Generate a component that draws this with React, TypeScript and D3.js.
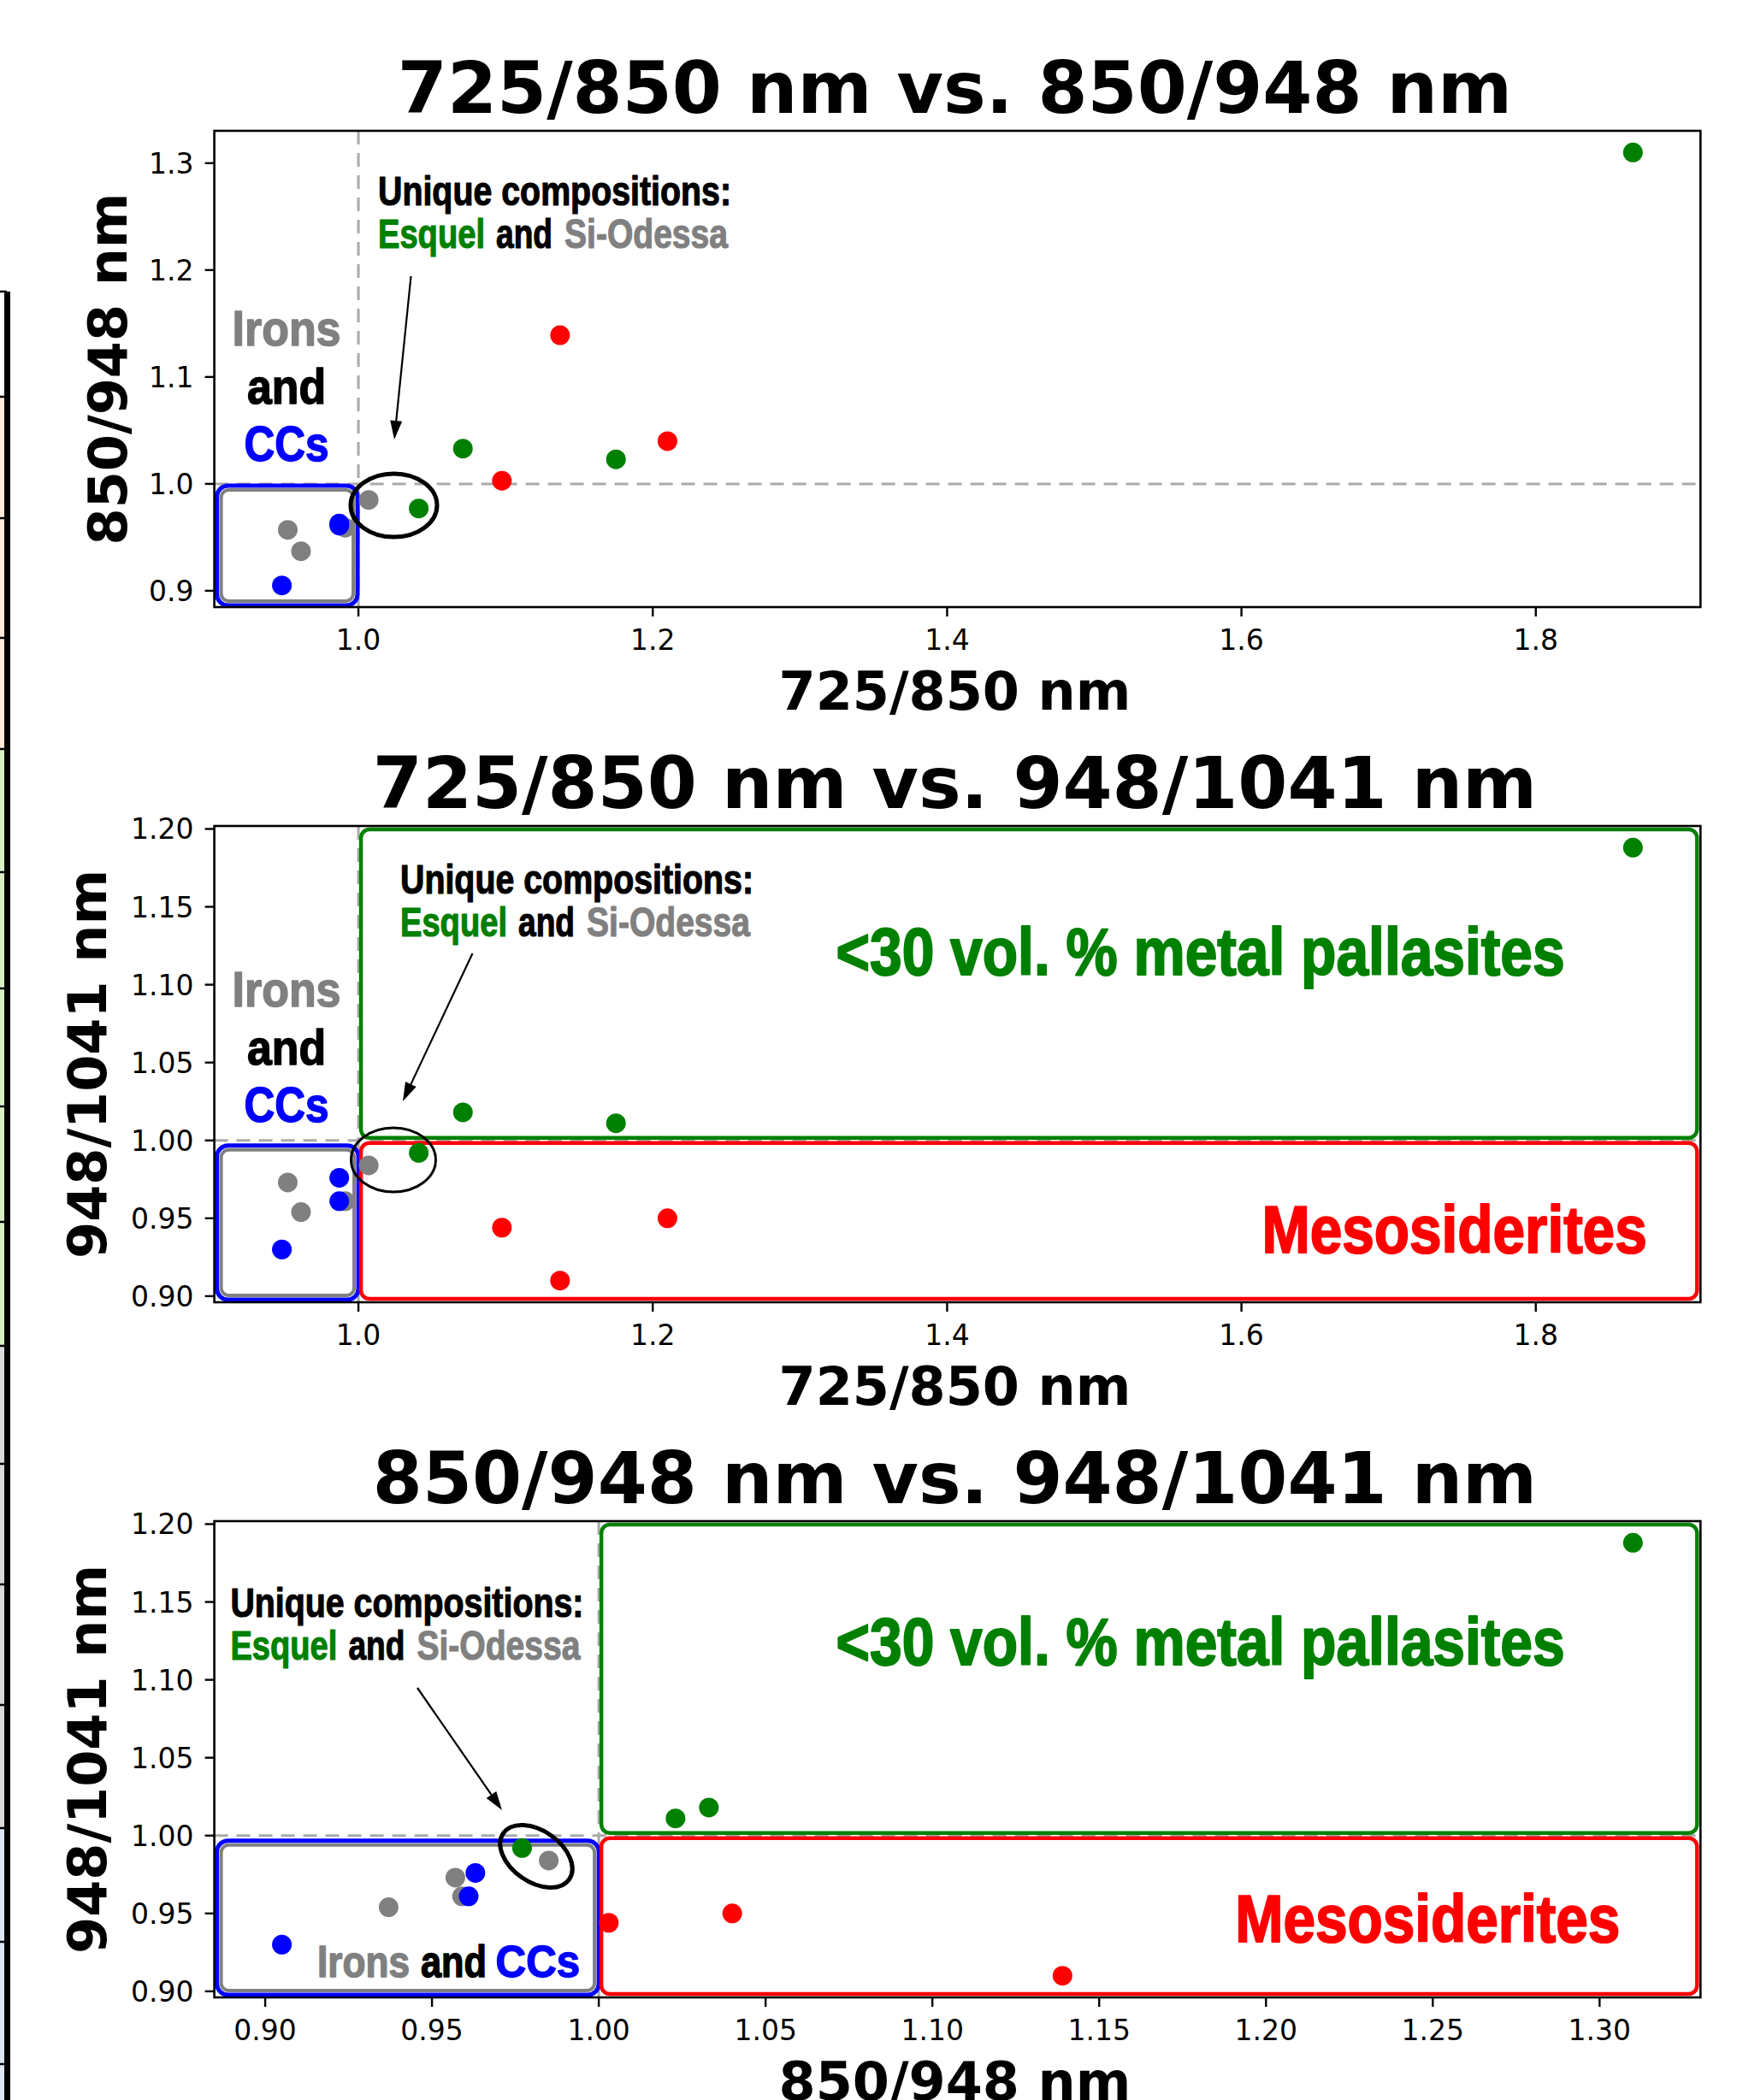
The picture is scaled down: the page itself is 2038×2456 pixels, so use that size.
import React, { useLayoutEffect, useRef, useState } from 'react';
import * as d3 from 'd3';

// ---------- data (band ratios per meteorite group) ----------
const pallasiteR725_850 = [1.866, 1.071, 1.175, 1.041];
const pallasiteR850_948 = [1.31, 1.033, 1.023, 0.977];
const pallasiteR948_1041 = [1.188, 1.018, 1.011, 0.992];

const mesoR725_850 = [1.137, 1.21, 1.0975];
const mesoR850_948 = [1.139, 1.04, 1.003];
const mesoR948_1041 = [0.91, 0.95, 0.944];

const ironR725_850 = [1.007, 0.952, 0.961, 0.991];
const ironR850_948 = [0.985, 0.957, 0.937, 0.959];
const ironR948_1041 = [0.984, 0.973, 0.954, 0.961];

const ccR725_850 = [0.948, 0.987, 0.987];
const ccR850_948 = [0.905, 0.963, 0.961];
const ccR948_1041 = [0.93, 0.976, 0.961];

const ticks725 = [1.0, 1.2, 1.4, 1.6, 1.8];
const ticks850y = [0.9, 1.0, 1.1, 1.2, 1.3];
const ticks948 = [0.9, 0.95, 1.0, 1.05, 1.1, 1.15, 1.2];
const ticks850x = [0.9, 0.95, 1.0, 1.05, 1.1, 1.15, 1.2, 1.25, 1.3];

const titles = ['725/850 nm vs. 850/948 nm', '725/850 nm vs. 948/1041 nm', '850/948 nm vs. 948/1041 nm'];
const xLabels = ['725/850 nm', '725/850 nm', '850/948 nm'];
const yLabels = ['850/948 nm', '948/1041 nm', '948/1041 nm'];

// ---------- styling ----------
const GREEN = '#008000';
const RED = '#ff0000';
const GRAY = '#808080';
const BLUE = '#0000ff';

const series = [
  { color: GRAY, r725: ironR725_850, r850: ironR850_948, r948: ironR948_1041 },
  { color: BLUE, r725: ccR725_850, r850: ccR850_948, r948: ccR948_1041 },
  { color: GREEN, r725: pallasiteR725_850, r850: pallasiteR850_948, r948: pallasiteR948_1041 },
  { color: RED, r725: mesoR725_850, r850: mesoR850_948, r948: mesoR948_1041 },
];

const W = 2038;
const H = 2456;
const plotLeft = 250.6;
const plotRight = 1988.3;
const plotH = 557;
const tops = [153, 966, 1779];

const DEJAVU = "'DejaVu Sans', sans-serif";
const NARROW = "'Liberation Sans Narrow', 'Liberation Sans', Arial, sans-serif";

const ext = (vals: number[]) => {
  const [a, b] = d3.extent(vals) as [number, number];
  const m = (b - a) * 0.05;
  return [a - m, b + m];
};

type Key = 'r725' | 'r850' | 'r948';

const panelDefs: { xKey: Key; yKey: Key; xTicks: number[]; yTicks: number[]; xFmt: (n: number) => string; yFmt: (n: number) => string; labelX: number }[] = [
  { xKey: 'r725', yKey: 'r850', xTicks: ticks725, yTicks: ticks850y, xFmt: d3.format('.1f'), yFmt: d3.format('.1f'), labelX: 148 },
  { xKey: 'r725', yKey: 'r948', xTicks: ticks725, yTicks: ticks948, xFmt: d3.format('.1f'), yFmt: d3.format('.2f'), labelX: 124 },
  { xKey: 'r850', yKey: 'r948', xTicks: ticks850x, yTicks: ticks948, xFmt: d3.format('.2f'), yFmt: d3.format('.2f'), labelX: 124 },
];

// Condensed bold text, horizontally scaled so that it spans exactly w pixels.
function CondText(props: { x: number; y: number; w: number; size: number; anchor?: string; children: React.ReactNode; fill?: string; sw?: number }) {
  const fill = props.fill || '#000';
  const ref = useRef<SVGTextElement>(null);
  const [sx, setSx] = useState(0.85);
  useLayoutEffect(() => {
    const n = ref.current;
    if (n) {
      const len = n.getComputedTextLength();
      if (len > 0) setSx(props.w / len);
    }
  }, [props.w, props.size]);
  return (
    <g transform={`translate(${props.x},${props.y}) scale(${sx},1)`}>
      <text
        ref={ref}
        x={0}
        y={0}
        fontFamily={NARROW}
        fontWeight={700}
        fontSize={props.size}
        textAnchor={props.anchor || 'start'}
        fill={fill}
        stroke={fill}
        strokeWidth={props.sw ?? 1.2}
        strokeLinejoin="round"
      >
        {props.children}
      </text>
    </g>
  );
}

function UniqueNote({ x, y }: { x: number; y: number }) {
  return (
    <g>
      <CondText x={x} y={y} w={413} size={48}>Unique compositions:</CondText>
      <CondText x={x} y={y + 50} w={125} size={48} fill={GREEN}>Esquel</CondText>
      <CondText x={x + 138} y={y + 50} w={66} size={48}>and</CondText>
      <CondText x={x + 218} y={y + 50} w={191} size={48} fill={GRAY}>Si-Odessa</CondText>
    </g>
  );
}

function IronsStack({ x, y }: { x: number; y: number }) {
  return (
    <g>
      <CondText x={x} y={y} w={127} size={57} anchor="middle" fill={GRAY} sw={1.5}>Irons</CondText>
      <CondText x={x} y={y + 67.5} w={92} size={57} anchor="middle" sw={1.5}>and</CondText>
      <CondText x={x} y={y + 135} w={99} size={57} anchor="middle" fill={BLUE} sw={1.5}>CCs</CondText>
    </g>
  );
}

function Arrow({ x1, y1, x2, y2 }: { x1: number; y1: number; x2: number; y2: number }) {
  const ang = Math.atan2(y2 - y1, x2 - x1);
  const L = 22;
  const hw = 7;
  const bx = x2 - L * Math.cos(ang);
  const by = y2 - L * Math.sin(ang);
  const px = -Math.sin(ang) * hw;
  const py = Math.cos(ang) * hw;
  return (
    <g>
      <line x1={x1} y1={y1} x2={bx} y2={by} stroke="#000" strokeWidth={2.2} />
      <polygon points={`${x2},${y2} ${bx + px},${by + py} ${bx - px},${by - py}`} fill="#000" />
    </g>
  );
}

function Panel({ idx }: { idx: number }) {
  const def = panelDefs[idx];
  const top = tops[idx];
  const bottom = top + plotH;
  const allX = series.flatMap((s) => s[def.xKey]);
  const allY = series.flatMap((s) => s[def.yKey]);
  const x = d3.scaleLinear().domain(ext(allX)).range([plotLeft, plotRight]);
  const y = d3.scaleLinear().domain(ext(allY)).range([bottom, top]);
  const x1 = x(1.0);
  const y1 = y(1.0);
  const cx = (plotLeft + plotRight) / 2;

  return (
    <g>
      {/* title */}
      <text x={cx - 3} y={top - 21} textAnchor="middle" fontFamily={DEJAVU} fontWeight={700} fontSize={83.5}>
        {titles[idx]}
      </text>
      {/* reference lines */}
      <line x1={x1} x2={x1} y1={top} y2={bottom} stroke="#aaaaaa" strokeWidth={3} strokeDasharray="16,10" />
      <line x1={plotLeft} x2={plotRight} y1={y1} y2={y1} stroke="#aaaaaa" strokeWidth={3} strokeDasharray="16,10" />

      {/* region boxes */}
      {idx === 0 && (
        <g fill="none">
          <rect x={plotLeft + 3} y={y1 + 2} width={x1 - plotLeft - 4} height={bottom - y1 - 4} rx={13} stroke={BLUE} strokeWidth={5} />
          <rect x={plotLeft + 8} y={y1 + 7} width={x1 - plotLeft - 14} height={bottom - y1 - 14} rx={9} stroke={GRAY} strokeWidth={4} />
        </g>
      )}
      {idx > 0 && (
        <g fill="none">
          <rect x={plotLeft + 3} y={y1 + 6} width={x1 - plotLeft - 3} height={bottom - y1 - 9} rx={13} stroke={BLUE} strokeWidth={5} />
          <rect x={plotLeft + 8} y={y1 + 11} width={x1 - plotLeft - 13} height={bottom - y1 - 19} rx={9} stroke={GRAY} strokeWidth={4} />
          <rect x={x1 + 3} y={top + 4} width={plotRight - x1 - 7} height={y1 - top - 7} rx={10} stroke={GREEN} strokeWidth={4.5} />
          <rect x={x1 + 3} y={y1 + 3} width={plotRight - x1 - 7} height={bottom - y1 - 7} rx={10} stroke={RED} strokeWidth={4.5} />
        </g>
      )}

      {/* points */}
      {series.map((s, si) => (
        <g key={si} fill={s.color}>
          {s[def.xKey].map((v, i) => (
            <circle key={i} cx={x(v)} cy={y(s[def.yKey][i])} r={11.5} />
          ))}
        </g>
      ))}

      {/* frame */}
      <rect x={plotLeft} y={top} width={plotRight - plotLeft} height={plotH} fill="none" stroke="#000" strokeWidth={2.6} />

      {/* x axis ticks */}
      {def.xTicks.map((t) => (
        <g key={'x' + t}>
          <line x1={x(t)} x2={x(t)} y1={bottom} y2={bottom + 11} stroke="#000" strokeWidth={2.4} />
          <text x={x(t)} y={bottom + 50} textAnchor="middle" fontFamily={DEJAVU} fontSize={33} fill="#000">
            {def.xFmt(t)}
          </text>
        </g>
      ))}
      {/* y axis ticks */}
      {def.yTicks.map((t) => (
        <g key={'y' + t}>
          <line x1={plotLeft - 11} x2={plotLeft} y1={y(t)} y2={y(t)} stroke="#000" strokeWidth={2.4} />
          <text x={plotLeft - 24} y={y(t) + 12} textAnchor="end" fontFamily={DEJAVU} fontSize={33} fill="#000">
            {def.yFmt(t)}
          </text>
        </g>
      ))}

      {/* axis labels */}
      <text x={cx - 3} y={bottom + 120} textAnchor="middle" fontFamily={DEJAVU} fontWeight={700} fontSize={62}>
        {xLabels[idx]}
      </text>
      <text
        transform={`translate(${def.labelX},${(top + bottom) / 2}) rotate(-90)`}
        textAnchor="middle"
        fontFamily={DEJAVU}
        fontWeight={700}
        fontSize={62}
      >
        {yLabels[idx]}
      </text>
    </g>
  );
}

function LeftStrip() {
  const edges = [341, 464, 606, 746, 876, 1020, 1156, 1294, 1429, 1574, 1712, 1853, 1994, 2138, 2271, 2414, 2456];
  const fills = ['#ffffff', '#fde9d9', '#fde9d9', '#fde9d9', '#d8efc6', '#d8efc6', '#d8efc6', '#d8efc6', '#d8efc6', '#d9d9d9', '#d9d9d9', '#d9d9d9', '#d9d9d9', '#dce6f2', '#dce6f2', '#dce6f2'];
  return (
    <g>
      {fills.map((f, i) => (
        <rect key={i} x={0} y={edges[i]} width={5} height={edges[i + 1] - edges[i]} fill={f} />
      ))}
      {edges.slice(0, -1).map((e, i) => (
        <line key={'d' + i} x1={0} x2={8} y1={e} y2={e} stroke="#000" strokeWidth={2.5} />
      ))}
      <rect x={5} y={341} width={7} height={H - 341} fill="#000" />
    </g>
  );
}

export default function App() {
  return (
    <div style={{ position: 'absolute', left: 0, top: 0 }}>
      <svg width={W} height={H} viewBox={`0 0 ${W} ${H}`} style={{ display: 'block', background: '#fff' }}>
        <rect x={0} y={0} width={W} height={H} fill="#fff" />
        <LeftStrip />
        <Panel idx={0} />
        <Panel idx={1} />
        <Panel idx={2} />

        {/* ---- panel 1 annotations ---- */}
        <IronsStack x={335} y={404} />
        <UniqueNote x={442} y={240} />
        <Arrow x1={480.5} y1={323} x2={461} y2={514} />
        <ellipse cx={460.5} cy={591} rx={50.5} ry={37} fill="none" stroke="#000" strokeWidth={5} />

        {/* ---- panel 2 annotations ---- */}
        <IronsStack x={335} y={1177} />
        <UniqueNote x={468} y={1045} />
        <Arrow x1={552.5} y1={1115} x2={471} y2={1288} />
        <ellipse cx={460} cy={1356.5} rx={49.5} ry={37.5} fill="none" stroke="#000" strokeWidth={3} />
        <CondText x={977.5} y={1140} w={852} size={77} fill={GREEN} sw={2}>&lt;30 vol. % metal pallasites</CondText>
        <CondText x={1475.6} y={1464.7} w={450} size={77} fill={RED} sw={2}>Mesosiderites</CondText>

        {/* ---- panel 3 annotations ---- */}
        <UniqueNote x={269.4} y={1891} />
        <Arrow x1={488} y1={1974} x2={587} y2={2117} />
        <ellipse cx={627} cy={2171} rx={47} ry={30} transform="rotate(35 627 2171)" fill="none" stroke="#000" strokeWidth={5} />
        <CondText x={371} y={2312} w={108} size={52} fill={GRAY} sw={1.5}>Irons</CondText>
        <CondText x={492} y={2312} w={77} size={52} sw={1.5}>and</CondText>
        <CondText x={579.6} y={2312} w={98.7} size={52} fill={BLUE} sw={1.5}>CCs</CondText>
        <CondText x={977.5} y={1947} w={852} size={77} fill={GREEN} sw={2}>&lt;30 vol. % metal pallasites</CondText>
        <CondText x={1444.3} y={2271} w={450} size={77} fill={RED} sw={2}>Mesosiderites</CondText>
      </svg>
    </div>
  );
}
